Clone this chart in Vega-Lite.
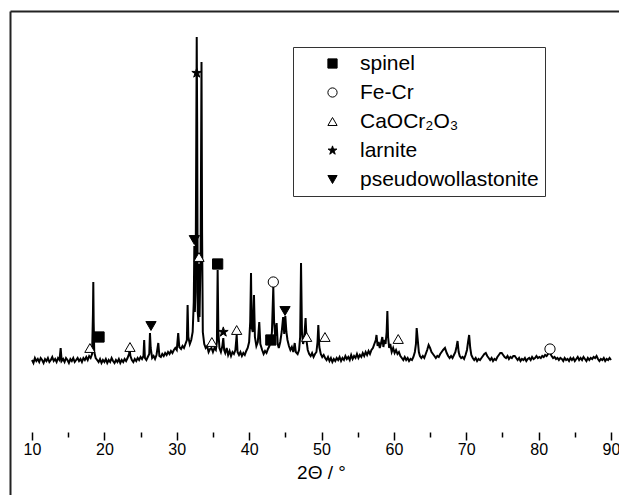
{
  "$schema": "https://vega.github.io/schema/vega-lite/v6.json",
  "autosize": "none",
  "padding": {"left": 10, "top": 11, "right": 0, "bottom": 0},
  "width": 609,
  "height": 484,
  "config": {
    "view": {"stroke": null},
    "font": "Liberation Sans",
    "axis": {"grid": false, "labelFont": "Liberation Sans", "titleFont": "Liberation Sans"},
    "legend": {"labelFont": "Liberation Sans"}
  },
  "datasets": {
    "pattern": [
      {"t":10.0,"i":72},{"t":10.2,"i":69},{"t":10.4,"i":74},{"t":10.6,"i":71},{"t":10.8,"i":73},{"t":11.0,"i":70},{"t":11.2,"i":74},{"t":11.4,"i":72},{"t":11.6,"i":69},{"t":11.8,"i":73},
      {"t":12.0,"i":71},{"t":12.2,"i":74},{"t":12.4,"i":70},{"t":12.6,"i":72},{"t":12.8,"i":75},{"t":13.0,"i":71},{"t":13.2,"i":73},{"t":13.4,"i":70},{"t":13.6,"i":74},{"t":13.8,"i":72},
      {"t":13.96,"i":84},{"t":14.1,"i":71},{"t":14.3,"i":73},{"t":14.5,"i":70},{"t":14.7,"i":74},{"t":14.9,"i":72},{"t":15.1,"i":69},{"t":15.3,"i":73},{"t":15.5,"i":71},{"t":15.7,"i":74},
      {"t":15.9,"i":70},{"t":16.1,"i":72},{"t":16.3,"i":74},{"t":16.5,"i":71},{"t":16.7,"i":73},{"t":16.9,"i":70},{"t":17.1,"i":74},{"t":17.3,"i":72},{"t":17.5,"i":75},{"t":17.7,"i":72},
      {"t":17.9,"i":76},{"t":18.1,"i":74},{"t":18.3,"i":78},{"t":18.42,"i":118},{"t":18.47,"i":150},{"t":18.52,"i":110},{"t":18.6,"i":80},{"t":18.8,"i":74},{"t":19.0,"i":72},{"t":19.2,"i":70},
      {"t":19.4,"i":73},{"t":19.6,"i":69},{"t":19.8,"i":72},{"t":20.0,"i":70},{"t":20.2,"i":73},{"t":20.4,"i":69},{"t":20.6,"i":72},{"t":20.8,"i":70},{"t":21.0,"i":74},{"t":21.2,"i":71},
      {"t":21.4,"i":69},{"t":21.6,"i":72},{"t":21.8,"i":70},{"t":22.0,"i":73},{"t":22.2,"i":69},{"t":22.4,"i":72},{"t":22.6,"i":70},{"t":22.8,"i":73},{"t":23.0,"i":71},{"t":23.2,"i":74},
      {"t":23.4,"i":78},{"t":23.5,"i":82},{"t":23.6,"i":76},{"t":23.8,"i":72},{"t":24.0,"i":70},{"t":24.2,"i":73},{"t":24.4,"i":71},{"t":24.6,"i":74},{"t":24.8,"i":72},{"t":25.0,"i":75},
      {"t":25.2,"i":73},{"t":25.4,"i":76},{"t":25.5,"i":92},{"t":25.6,"i":74},{"t":25.8,"i":72},{"t":26.0,"i":75},{"t":26.2,"i":78},{"t":26.3,"i":99},{"t":26.4,"i":84},{"t":26.6,"i":74},
      {"t":26.8,"i":76},{"t":27.0,"i":73},{"t":27.2,"i":77},{"t":27.45,"i":89},{"t":27.6,"i":76},{"t":27.8,"i":75},{"t":28.0,"i":78},{"t":28.2,"i":76},{"t":28.4,"i":79},{"t":28.6,"i":77},
      {"t":28.8,"i":80},{"t":29.0,"i":78},{"t":29.2,"i":81},{"t":29.4,"i":79},{"t":29.6,"i":82},{"t":29.8,"i":84},{"t":30.0,"i":82},{"t":30.2,"i":99},{"t":30.35,"i":85},{"t":30.6,"i":83},
      {"t":30.8,"i":86},{"t":31.0,"i":84},{"t":31.2,"i":88},{"t":31.4,"i":92},{"t":31.5,"i":127},{"t":31.6,"i":95},{"t":31.8,"i":88},{"t":32.0,"i":92},{"t":32.2,"i":100},{"t":32.35,"i":130},
      {"t":32.43,"i":186},{"t":32.5,"i":120},{"t":32.6,"i":140},{"t":32.7,"i":300},{"t":32.76,"i":395},{"t":32.82,"i":310},{"t":32.9,"i":120},{"t":33.0,"i":110},{"t":33.07,"i":168},{"t":33.15,"i":115},
      {"t":33.3,"i":180},{"t":33.42,"i":370},{"t":33.5,"i":200},{"t":33.6,"i":100},{"t":33.8,"i":88},{"t":34.0,"i":84},{"t":34.2,"i":86},{"t":34.4,"i":80},{"t":34.6,"i":83},{"t":34.8,"i":84},
      {"t":35.0,"i":80},{"t":35.2,"i":84},{"t":35.4,"i":82},{"t":35.55,"i":90},{"t":35.65,"i":162},{"t":35.75,"i":100},{"t":35.9,"i":84},{"t":36.1,"i":80},{"t":36.3,"i":86},{"t":36.43,"i":94},
      {"t":36.55,"i":82},{"t":36.7,"i":79},{"t":36.9,"i":84},{"t":37.1,"i":77},{"t":37.3,"i":81},{"t":37.5,"i":76},{"t":37.7,"i":80},{"t":37.9,"i":78},{"t":38.1,"i":82},{"t":38.28,"i":97},
      {"t":38.4,"i":80},{"t":38.6,"i":77},{"t":38.8,"i":80},{"t":39.0,"i":76},{"t":39.2,"i":79},{"t":39.4,"i":77},{"t":39.6,"i":81},{"t":39.8,"i":84},{"t":40.0,"i":90},{"t":40.15,"i":110},
      {"t":40.26,"i":159},{"t":40.35,"i":105},{"t":40.5,"i":100},{"t":40.67,"i":137},{"t":40.8,"i":95},{"t":41.0,"i":86},{"t":41.2,"i":90},{"t":41.4,"i":110},{"t":41.55,"i":88},{"t":41.8,"i":82},
      {"t":42.0,"i":78},{"t":42.2,"i":81},{"t":42.4,"i":79},{"t":42.6,"i":83},{"t":42.8,"i":86},{"t":43.0,"i":90},{"t":43.15,"i":100},{"t":43.34,"i":145},{"t":43.45,"i":110},{"t":43.6,"i":96},
      {"t":43.8,"i":109},{"t":43.95,"i":88},{"t":44.1,"i":84},{"t":44.3,"i":90},{"t":44.5,"i":100},{"t":44.7,"i":115},{"t":44.85,"i":98},{"t":45.0,"i":116},{"t":45.15,"i":100},{"t":45.3,"i":92},
      {"t":45.5,"i":86},{"t":45.7,"i":82},{"t":45.9,"i":85},{"t":46.1,"i":80},{"t":46.3,"i":89},{"t":46.45,"i":80},{"t":46.7,"i":78},{"t":46.9,"i":82},{"t":47.05,"i":95},{"t":47.17,"i":169},
      {"t":47.3,"i":100},{"t":47.45,"i":88},{"t":47.6,"i":92},{"t":47.8,"i":114},{"t":47.95,"i":90},{"t":48.1,"i":82},{"t":48.3,"i":78},{"t":48.5,"i":76},{"t":48.7,"i":79},{"t":48.9,"i":75},
      {"t":49.1,"i":78},{"t":49.3,"i":80},{"t":49.45,"i":90},{"t":49.56,"i":107},{"t":49.7,"i":85},{"t":49.9,"i":78},{"t":50.1,"i":75},{"t":50.3,"i":77},{"t":50.5,"i":74},{"t":50.7,"i":72},
      {"t":50.9,"i":75},{"t":51.1,"i":71},{"t":51.3,"i":74},{"t":51.5,"i":70},{"t":51.7,"i":73},{"t":51.9,"i":71},{"t":52.1,"i":74},{"t":52.3,"i":72},{"t":52.5,"i":75},{"t":52.7,"i":71},
      {"t":52.9,"i":74},{"t":53.1,"i":72},{"t":53.3,"i":76},{"t":53.5,"i":73},{"t":53.7,"i":75},{"t":53.9,"i":72},{"t":54.1,"i":77},{"t":54.3,"i":73},{"t":54.5,"i":76},{"t":54.7,"i":74},
      {"t":54.9,"i":78},{"t":55.1,"i":74},{"t":55.3,"i":77},{"t":55.5,"i":75},{"t":55.7,"i":79},{"t":55.9,"i":76},{"t":56.1,"i":80},{"t":56.3,"i":77},{"t":56.5,"i":81},{"t":56.7,"i":78},
      {"t":56.9,"i":82},{"t":57.1,"i":84},{"t":57.3,"i":88},{"t":57.5,"i":92},{"t":57.6,"i":97},{"t":57.75,"i":86},{"t":57.9,"i":90},{"t":58.05,"i":84},{"t":58.2,"i":88},{"t":58.4,"i":95},
      {"t":58.55,"i":85},{"t":58.7,"i":92},{"t":58.85,"i":88},{"t":59.0,"i":100},{"t":59.1,"i":121},{"t":59.2,"i":95},{"t":59.35,"i":84},{"t":59.5,"i":88},{"t":59.7,"i":80},{"t":59.9,"i":84},
      {"t":60.1,"i":79},{"t":60.3,"i":82},{"t":60.5,"i":78},{"t":60.7,"i":80},{"t":60.9,"i":76},{"t":61.1,"i":74},{"t":61.3,"i":72},{"t":61.5,"i":75},{"t":61.7,"i":72},{"t":61.9,"i":74},
      {"t":62.1,"i":71},{"t":62.3,"i":73},{"t":62.5,"i":72},{"t":62.7,"i":75},{"t":62.9,"i":80},{"t":63.05,"i":88},{"t":63.15,"i":104},{"t":63.3,"i":92},{"t":63.45,"i":80},{"t":63.6,"i":76},
      {"t":63.8,"i":74},{"t":64.0,"i":76},{"t":64.2,"i":74},{"t":64.4,"i":78},{"t":64.6,"i":82},{"t":64.8,"i":87},{"t":65.0,"i":84},{"t":65.2,"i":80},{"t":65.4,"i":78},{"t":65.6,"i":76},
      {"t":65.8,"i":74},{"t":66.0,"i":76},{"t":66.2,"i":75},{"t":66.4,"i":78},{"t":66.6,"i":80},{"t":66.8,"i":82},{"t":67.06,"i":84},{"t":67.3,"i":79},{"t":67.5,"i":76},{"t":67.7,"i":74},
      {"t":67.9,"i":76},{"t":68.1,"i":74},{"t":68.3,"i":77},{"t":68.5,"i":80},{"t":68.65,"i":85},{"t":68.8,"i":91},{"t":68.95,"i":80},{"t":69.1,"i":76},{"t":69.3,"i":74},{"t":69.5,"i":75},
      {"t":69.7,"i":73},{"t":69.9,"i":77},{"t":70.1,"i":82},{"t":70.25,"i":90},{"t":70.4,"i":97},{"t":70.55,"i":84},{"t":70.7,"i":77},{"t":70.9,"i":74},{"t":71.1,"i":72},{"t":71.3,"i":74},
      {"t":71.5,"i":71},{"t":71.7,"i":73},{"t":71.9,"i":72},{"t":72.1,"i":74},{"t":72.3,"i":76},{"t":72.5,"i":78},{"t":72.7,"i":79},{"t":72.9,"i":76},{"t":73.1,"i":74},{"t":73.3,"i":72},
      {"t":73.5,"i":74},{"t":73.7,"i":71},{"t":73.9,"i":73},{"t":74.1,"i":72},{"t":74.3,"i":75},{"t":74.5,"i":77},{"t":74.7,"i":79},{"t":74.9,"i":79},{"t":75.1,"i":77},{"t":75.3,"i":75},
      {"t":75.5,"i":74},{"t":75.7,"i":76},{"t":75.9,"i":73},{"t":76.1,"i":75},{"t":76.3,"i":74},{"t":76.5,"i":76},{"t":76.7,"i":76},{"t":76.9,"i":74},{"t":77.1,"i":72},{"t":77.3,"i":74},
      {"t":77.5,"i":71},{"t":77.7,"i":73},{"t":77.9,"i":72},{"t":78.1,"i":74},{"t":78.3,"i":71},{"t":78.5,"i":73},{"t":78.7,"i":74},{"t":78.9,"i":72},{"t":79.1,"i":75},{"t":79.3,"i":73},
      {"t":79.5,"i":74},{"t":79.7,"i":76},{"t":79.9,"i":74},{"t":80.1,"i":75},{"t":80.3,"i":74},{"t":80.5,"i":76},{"t":80.7,"i":75},{"t":80.9,"i":77},{"t":81.1,"i":76},{"t":81.3,"i":78},
      {"t":81.5,"i":80},{"t":81.65,"i":78},{"t":81.8,"i":76},{"t":82.0,"i":74},{"t":82.2,"i":75},{"t":82.4,"i":73},{"t":82.6,"i":74},{"t":82.8,"i":72},{"t":83.0,"i":74},{"t":83.2,"i":73},
      {"t":83.4,"i":71},{"t":83.6,"i":74},{"t":83.8,"i":72},{"t":84.0,"i":73},{"t":84.2,"i":71},{"t":84.4,"i":74},{"t":84.6,"i":72},{"t":84.8,"i":74},{"t":85.0,"i":71},{"t":85.2,"i":73},
      {"t":85.4,"i":75},{"t":85.6,"i":72},{"t":85.8,"i":74},{"t":86.0,"i":72},{"t":86.2,"i":75},{"t":86.4,"i":73},{"t":86.6,"i":71},{"t":86.8,"i":74},{"t":87.0,"i":72},{"t":87.2,"i":74},
      {"t":87.4,"i":73},{"t":87.6,"i":75},{"t":87.8,"i":74},{"t":88.0,"i":76},{"t":88.2,"i":73},{"t":88.4,"i":71},{"t":88.6,"i":73},{"t":88.8,"i":72},{"t":89.0,"i":74},{"t":89.2,"i":71},
      {"t":89.4,"i":73},{"t":89.6,"i":72},{"t":89.8,"i":74},{"t":90.0,"i":72}
    ],
    "markers": [
      {"phase":"spinel","t":19.26,"i":95},
      {"phase":"spinel","t":35.65,"i":168},
      {"phase":"spinel","t":43.0,"i":92},
      {"phase":"Fe-Cr","t":43.34,"i":150},
      {"phase":"Fe-Cr","t":81.57,"i":83},
      {"phase":"CaOCr₂O₃","t":18.0,"i":84},
      {"phase":"CaOCr₂O₃","t":23.54,"i":85},
      {"phase":"CaOCr₂O₃","t":33.07,"i":175},
      {"phase":"CaOCr₂O₃","t":34.85,"i":90},
      {"phase":"CaOCr₂O₃","t":38.28,"i":102},
      {"phase":"CaOCr₂O₃","t":47.95,"i":95},
      {"phase":"CaOCr₂O₃","t":50.48,"i":95},
      {"phase":"CaOCr₂O₃","t":60.6,"i":93},
      {"phase":"larnite","t":32.76,"i":359},
      {"phase":"larnite","t":36.43,"i":100},
      {"phase":"pseudowollastonite","t":26.44,"i":106},
      {"phase":"pseudowollastonite","t":32.43,"i":192},
      {"phase":"pseudowollastonite","t":44.96,"i":121}
    ]
  },
  "resolve": {"axis": {"x": "independent", "y": "independent"}},
  "layer": [
    {
      "data": {"name": "pattern"},
      "mark": {"type": "line", "color": "black", "strokeWidth": 2},
      "encoding": {
        "x": {
          "field": "t", "type": "quantitative",
          "scale": {"domain": [6.96, 91.105], "nice": false, "zero": false},
          "axis": {
            "orient": "bottom", "offset": -63, "values": [10,20,30,40,50,60,70,80,90],
            "domain": false, "ticks": true, "tickSize": 8, "tickWidth": 1.5, "tickColor": "black",
            "labels": true, "labelFontSize": 16, "labelColor": "black", "labelPadding": 1, "labelFlush": false,
            "title": "2Θ / °", "titleFontSize": 19, "titleFontWeight": "normal", "titleColor": "black",
            "titlePadding": 6, "titleX": 311
          }
        },
        "y": {
          "field": "i", "type": "quantitative",
          "scale": {"domain": [-63, 421], "nice": false, "zero": false},
          "axis": {
            "orient": "left", "domain": true, "domainColor": "#222", "domainWidth": 2,
            "ticks": false, "labels": false, "title": null, "grid": false
          }
        }
      }
    },
    {
      "mark": {"type": "rule", "color": "black", "strokeWidth": 1.5},
      "encoding": {
        "x": {
          "datum": 10, "type": "quantitative",
          "axis": {
            "orient": "bottom", "offset": -63, "values": [15,25,35,45,55,65,75,85],
            "domain": false, "ticks": true, "tickSize": 5, "tickWidth": 1.5, "tickColor": "black",
            "labels": false, "title": null
          }
        },
        "x2": {"datum": 90},
        "y": {"datum": 0, "type": "quantitative", "axis": null}
      }
    },
    {
      "data": {"name": "markers"},
      "mark": {"type": "point", "strokeWidth": 1, "opacity": 1, "size": 105},
      "encoding": {
        "x": {
          "field": "t", "type": "quantitative",
          "axis": {
            "orient": "top", "domain": true, "domainColor": "#222", "domainWidth": 2,
            "ticks": false, "labels": false, "title": null
          }
        },
        "y": {"field": "i", "type": "quantitative", "axis": null},
        "shape": {
          "field": "phase", "type": "nominal",
          "scale": {
            "domain": ["spinel", "Fe-Cr", "CaOCr₂O₃", "larnite", "pseudowollastonite"],
            "range": ["square", "circle", "triangle-up", "M0,-1L0.223,-0.307L0.951,-0.309L0.361,0.117L0.588,0.809L0,0.38L-0.588,0.809L-0.361,0.117L-0.951,-0.309L-0.223,-0.307Z", "triangle-down"]
          },
          "legend": {
            "orient": "none", "legendX": 283, "legendY": 36, "title": null,
            "strokeColor": "#333", "padding": 6, "labelFontSize": 21, "labelColor": "black", "labelLimit": 400,
            "symbolSize": 85, "symbolStrokeWidth": 1,
            "symbolOffset": 23, "labelOffset": 17, "rowPadding": 7
          }
        },
        "fill": {
          "field": "phase", "type": "nominal",
          "scale": {
            "domain": ["spinel", "Fe-Cr", "CaOCr₂O₃", "larnite", "pseudowollastonite"],
            "range": ["black", "white", "white", "black", "black"]
          },
          "legend": {
            "orient": "none", "legendX": 283, "legendY": 36, "title": null,
            "strokeColor": "#333", "padding": 6, "labelFontSize": 21, "labelColor": "black", "labelLimit": 400,
            "symbolSize": 85, "symbolStrokeWidth": 1,
            "symbolOffset": 23, "labelOffset": 17, "rowPadding": 7
          }
        },
        "stroke": {
          "field": "phase", "type": "nominal",
          "scale": {
            "domain": ["spinel", "Fe-Cr", "CaOCr₂O₃", "larnite", "pseudowollastonite"],
            "range": ["black", "black", "black", "black", "black"]
          },
          "legend": {
            "orient": "none", "legendX": 283, "legendY": 36, "title": null,
            "strokeColor": "#333", "padding": 6, "labelFontSize": 21, "labelColor": "black", "labelLimit": 400,
            "symbolSize": 85, "symbolStrokeWidth": 1,
            "symbolOffset": 23, "labelOffset": 17, "rowPadding": 7
          }
        }
      }
    }
  ]
}
